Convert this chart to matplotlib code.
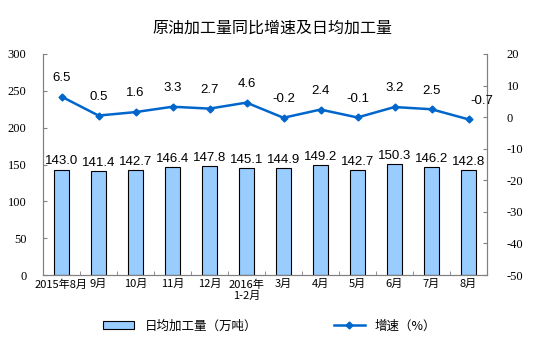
import numpy as np
import matplotlib.pyplot as plt
from matplotlib.patches import Patch
from matplotlib.lines import Line2D

plt.rcParams['font.family'] = ['Noto Sans CJK SC', 'DejaVu Sans']
plt.rcParams['axes.unicode_minus'] = False

# data
months = ['2015年8月', '9月', '10月', '11月', '12月', '2016年\n1-2月',
          '3月', '4月', '5月', '6月', '7月', '8月']
daily = [143.0, 141.4, 142.7, 146.4, 147.8, 145.1, 144.9, 149.2, 142.7, 150.3, 146.2, 142.8]
growth = [6.5, 0.5, 1.6, 3.3, 2.7, 4.6, -0.2, 2.4, -0.1, 3.2, 2.5, -0.7]

bar_color = '#99CCFF'
line_color = '#0066CC'
num_font = 'Liberation Serif'
lab_font = 'Liberation Sans'

fig = plt.figure(figsize=(5.45, 3.48), dpi=100)
ax = fig.add_axes([43/545, 1 - 275/348, 444/545, 221/348])
ax2 = ax.twinx()

x = np.arange(len(months))
ax.bar(x, daily, width=0.42, color=bar_color, edgecolor='black', linewidth=0.8, zorder=2)
for xi, v in zip(x, daily):
    ax.text(xi, v + 3, f'{v:.1f}', ha='center', va='bottom', fontsize=9.5,
            family=lab_font, color='black')

ax2.plot(x, growth, color=line_color, lw=1.8, marker='D', ms=3.5, zorder=3)
for i, (xi, v) in enumerate(zip(x, growth)):
    dx = 0.35 if i == len(growth) - 1 else 0
    ax2.text(xi + dx, v + 4, f'{v:.1f}', ha='center', va='bottom', fontsize=9.5,
             family=lab_font, color='black')

ax.set_xlim(-0.5, len(months) - 0.5)
ax.set_ylim(0, 300)
ax.set_yticks(range(0, 301, 50))
ax2.set_ylim(-50, 20)
ax2.set_yticks(range(-50, 21, 10))

ax.set_xticks(x)
ax.set_xticklabels(months, fontsize=8)
ax.set_xticks(np.arange(-0.5, len(months), 1), minor=True)
ax.tick_params(axis='x', which='major', length=0, pad=3)
ax.tick_params(axis='x', which='minor', length=3, direction='in', color='#808080')
ax.tick_params(axis='y', length=3, direction='in', color='#808080', labelsize=9, pad=12)
ax2.tick_params(axis='y', length=3, direction='in', color='#808080', labelsize=9, pad=14)
for lab in ax.get_yticklabels() + ax2.get_yticklabels():
    lab.set_family(num_font)

for a in (ax, ax2):
    a.spines['top'].set_visible(False)
    for s in ('left', 'right', 'bottom'):
        a.spines[s].set_color('#808080')

fig.suptitle('原油加工量同比增速及日均加工量', y=1 - 28/348, va='center', fontsize=11.5)

handles = [Patch(facecolor=bar_color, edgecolor='black', linewidth=0.8),
           Line2D([0], [0], color=line_color, lw=1.8, marker='D', ms=3.5)]
fig.legend(handles[:1], ['日均加工量（万吨）'], loc='center', bbox_to_anchor=(180/545, 1 - 326/348),
           frameon=False, fontsize=9, handlelength=2.5, handleheight=0.6)
fig.legend(handles[1:], ['增速（%）'], loc='center', bbox_to_anchor=(385/545, 1 - 326/348),
           frameon=False, fontsize=9, handlelength=2.5)

fig.savefig('out.png', dpi=100)
